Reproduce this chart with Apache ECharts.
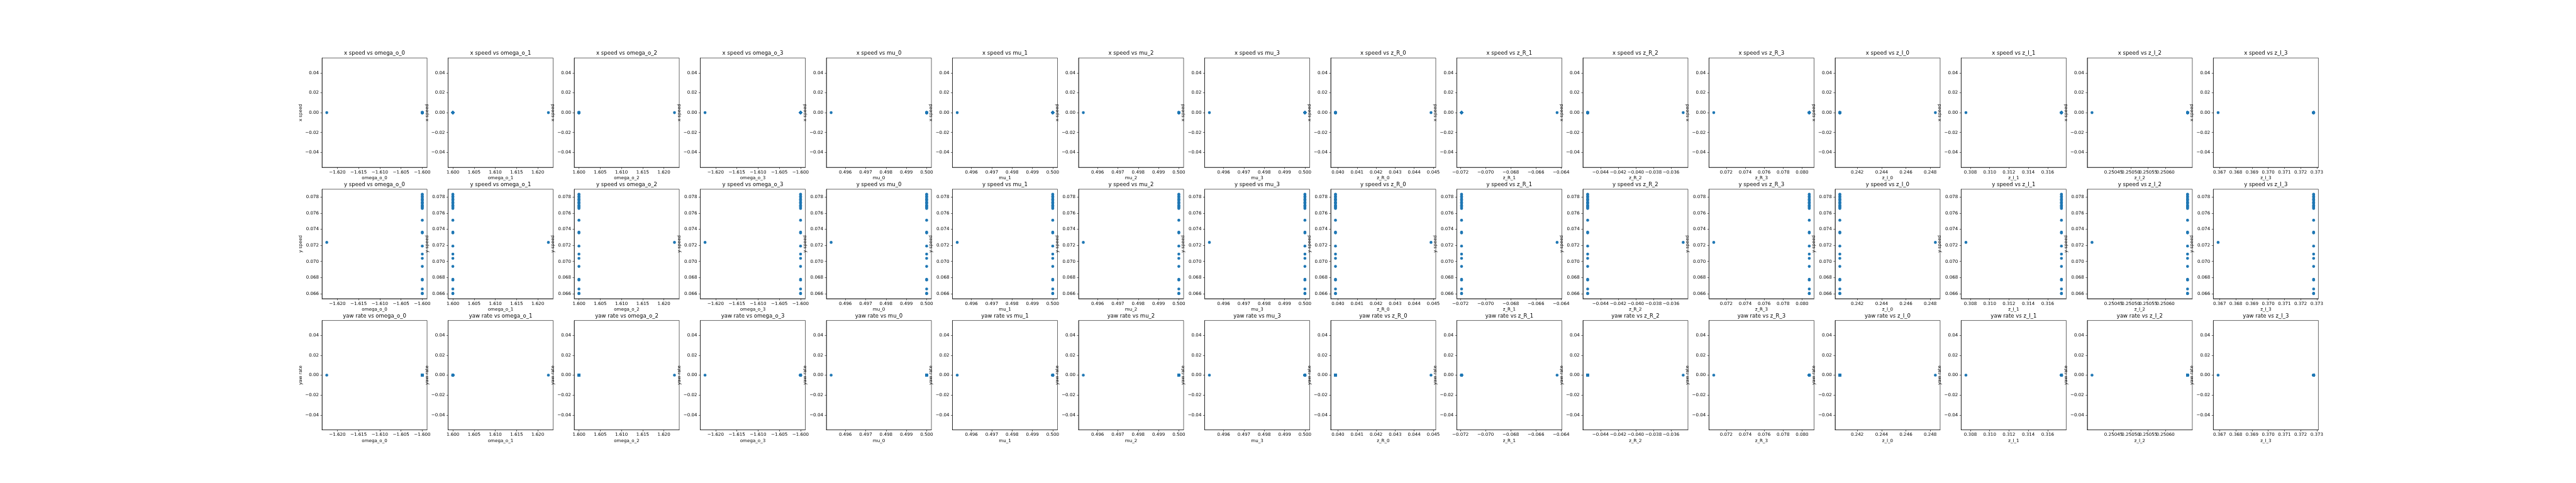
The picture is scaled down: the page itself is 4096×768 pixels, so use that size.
<!DOCTYPE html>
<html>
<head>
<meta charset="utf-8">
<script src="https://cdn.jsdelivr.net/npm/echarts@6/dist/echarts.min.js"></script>
<style>
html,body{margin:0;padding:0;background:#fff;}
#chart{width:4096px;height:768px;}
</style>
</head>
<body>
<div id="chart"></div>
<script>
// ---------------- data ----------------
const paramNames = ['omega_o_0','omega_o_1','omega_o_2','omega_o_3','mu_0','mu_1','mu_2','mu_3',
  'z_R_0','z_R_1','z_R_2','z_R_3','z_I_0','z_I_1','z_I_2','z_I_3'];
const outputNames = ['x speed','y speed','yaw rate'];

// parameter value shared by most samples
const baseValues = [-1.6, 1.6, 1.6, -1.6, 0.5, 0.5, 0.5, 0.5,
  0.03987, -0.07191, -0.04546, 0.08076, 0.24057, 0.31743, 0.250664, 0.37280];
// parameter value of the one differing sample
const variedValues = [-1.6225, 1.6225, 1.6225, -1.6225, 0.4953, 0.4953, 0.4953, 0.4953,
  0.04488, -0.06432, -0.03462, 0.07068, 0.24842, 0.30754, 0.250388, 0.36691];

// outputs of samples at base parameter values
const ySpeedBase = [0.07837, 0.0783, 0.0781, 0.0780, 0.0778, 0.0777, 0.0776, 0.0774, 0.0773,
  0.0772, 0.0770, 0.0769, 0.0768, 0.0767, 0.0766, 0.07513, 0.07365, 0.07355, 0.07191,
  0.07091, 0.07039, 0.06938, 0.06778, 0.06768, 0.06657, 0.06603, 0.06599];
const xSpeedBase = [0,0,0,0,0,0,0,0,0,0,0,0,0,0,0,0,0,0,0,0,0,0,0,0,0,0,0];
const yawRateBase = [0,0,0,0,0,0,0,0,0,0,0,0,0,0,0,0,0,0,0,0,0,0,0,0,0,0,0];
// outputs of the differing sample
const xSpeedVaried = 0;
const ySpeedVaried = 0.07237;
const yawRateVaried = 0;

// tick labels
const xTicks = [
  [-1.620,-1.615,-1.610,-1.605,-1.600],
  [1.600,1.605,1.610,1.615,1.620],
  [1.600,1.605,1.610,1.615,1.620],
  [-1.620,-1.615,-1.610,-1.605,-1.600],
  [0.496,0.497,0.498,0.499,0.500],
  [0.496,0.497,0.498,0.499,0.500],
  [0.496,0.497,0.498,0.499,0.500],
  [0.496,0.497,0.498,0.499,0.500],
  [0.040,0.041,0.042,0.043,0.044,0.045],
  [-0.072,-0.070,-0.068,-0.066,-0.064],
  [-0.044,-0.042,-0.040,-0.038,-0.036],
  [0.072,0.074,0.076,0.078,0.080],
  [0.242,0.244,0.246,0.248],
  [0.308,0.310,0.312,0.314,0.316],
  [0.25040,0.25045,0.25050,0.25055,0.25060,0.25065],
  [0.367,0.368,0.369,0.370,0.371,0.372,0.373]
];
const xTickDecimals = [3,3,3,3,3,3,3,3,3,3,3,3,3,3,5,3];
const yTicksZero = [-0.04,-0.02,0.00,0.02,0.04];
const yTicksYSpeed = [0.066,0.068,0.070,0.072,0.074,0.076,0.078];

// ---------------- layout ----------------
const S = 0.512;
const FW = 8000, FH = 1500;
const NC = 16, NR = 3;
const axW = (0.9-0.125)*FW/(NC + (NC-1)*0.2);
const axH = (0.88-0.11)*FH/(NR + (NR-1)*0.2);
const FONT = '"DejaVu Sans", sans-serif';
const tickFs = 10*100/72*S;
const titleFs = 12*100/72*S;
const lw = 0.6;

function fmt(v, d){
  const s = Math.abs(v).toFixed(d);
  return (v < -1e-12 ? '\u2212' : '') + s;
}
function lims(vals){
  let mn = Math.min(...vals), mx = Math.max(...vals);
  if (mx - mn < 1e-15) { mn -= 0.05; mx += 0.05; }
  const r = mx - mn;
  return [mn - 0.05*r, mx + 0.05*r];
}

const baseOutputs = [xSpeedBase, ySpeedBase, yawRateBase];
const variedOutputs = [xSpeedVaried, ySpeedVaried, yawRateVaried];
const yTickSets = [yTicksZero, yTicksYSpeed, yTicksZero];
const yDec = [2,3,2];

const grids = [], xAxes = [], yAxes = [], series = [], graphics = [];
let gi = 0;
for (let r = 0; r < NR; r++){
  const yAll = baseOutputs[r].concat([variedOutputs[r]]);
  const yl = lims(yAll);
  for (let c = 0; c < NC; c++){
    const left = S*(0.125*FW + c*axW*1.2);
    const top = S*((1-0.88)*FH + r*axH*1.2);
    const w = S*axW, h = S*axH;
    grids.push({left:left, top:top, width:w, height:h, show:true,
      borderColor:'#000', borderWidth:lw, backgroundColor:'rgba(0,0,0,0)',
      containLabel:false, outerBoundsMode:'none'});
    const xl = lims([baseValues[c], variedValues[c]]);
    const xd = xTickDecimals[c];
    xAxes.push({type:'value', gridIndex:gi, min:xl[0], max:xl[1], scale:true,
      axisLine:{show:true, onZero:false, lineStyle:{color:'#000', width:lw}},
      axisTick:{show:true, length:2.5, inside:false, customValues:xTicks[c], lineStyle:{color:'#000', width:lw}},
      axisLabel:{show:true, customValues:xTicks[c], margin:4.6, color:'#000', fontSize:tickFs, fontFamily:FONT,
        hideOverlap:false, formatter:(v)=>fmt(v, xd)},
      splitLine:{show:false}});
    const yd = yDec[r];
    yAxes.push({type:'value', gridIndex:gi, min:yl[0], max:yl[1], scale:true,
      axisLine:{show:true, onZero:false, lineStyle:{color:'#000', width:lw}},
      axisTick:{show:true, length:2.5, inside:false, customValues:yTickSets[r], lineStyle:{color:'#000', width:lw}},
      axisLabel:{show:true, customValues:yTickSets[r], margin:5, color:'#000', fontSize:tickFs, fontFamily:FONT,
        hideOverlap:false, formatter:(v)=>fmt(v, yd)},
      splitLine:{show:false}});
    const data = baseOutputs[r].map(v => [baseValues[c], v]);
    data.push([variedValues[c], variedOutputs[r]]);
    series.push({type:'scatter', xAxisIndex:gi, yAxisIndex:gi, data:data,
      symbol:'circle', symbolSize:4.6, itemStyle:{color:'#1f77b4', opacity:1}, silent:true, z:3});
    // title
    graphics.push({type:'text', x:left + w/2, y:top - 7.2, z:10,
      style:{text: outputNames[r] + ' vs ' + paramNames[c], fill:'#000',
        font: titleFs.toFixed(2) + 'px ' + FONT, textAlign:'center', textVerticalAlign:'middle',
        align:'center', verticalAlign:'middle'}});
    // x label
    graphics.push({type:'text', x:left + w/2, y:top + h + 17.3, z:10,
      style:{text: paramNames[c], fill:'#000',
        font: tickFs.toFixed(2) + 'px ' + FONT, textAlign:'center', textVerticalAlign:'middle',
        align:'center', verticalAlign:'middle'}});
    // y label
    graphics.push({type:'text', x:left - 33.8, y:top + h/2, rotation:Math.PI/2, z:10,
      style:{text: outputNames[r], fill:'#000',
        font: tickFs.toFixed(2) + 'px ' + FONT, textAlign:'center', textVerticalAlign:'middle',
        align:'center', verticalAlign:'middle'}});
    gi++;
  }
}

const chart = echarts.init(document.getElementById('chart'), null, {renderer:'canvas'});
chart.setOption({
  animation:false,
  backgroundColor:'#fff',
  grid:grids, xAxis:xAxes, yAxis:yAxes, series:series,
  graphic:{elements:graphics}
});
</script>
</body>
</html>
